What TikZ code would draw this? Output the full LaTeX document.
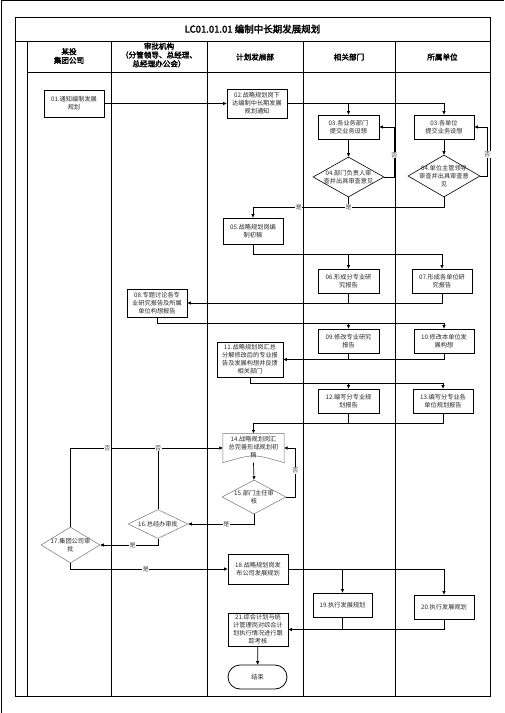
\documentclass[tikz,border=0pt]{standalone}
\usepackage{fontspec}
\setmainfont{Noto Sans CJK SC}[AutoFakeBold=2.5]
\usetikzlibrary{arrows.meta,shapes.geometric,calc}
\newcommand\flowfont{\fontsize{6.2}{8}\selectfont}
\newcommand\laneheadfont{\fontsize{7.6}{8.8}\selectfont\bfseries}
\newcommand\charttitlefont{\fontsize{9.5}{11}\selectfont\bfseries}
\newcommand\yesnofont{\fontsize{6}{7}\selectfont}

\begin{document}
\begin{tikzpicture}[x=1pt,y=-1pt,
	box/.style={draw,line width=0.8pt,minimum width=60pt,minimum height=24pt,inner sep=1pt,align=center,font=\flowfont,text=black!85},
	dia/.style={diamond,draw,inner sep=0pt},
	blackdia/.style={draw=black,line width=0.6pt},
	graydia/.style={draw=black!55,line width=0.5pt},
	txt/.style={align=center,font=\flowfont,text=black!85,inner sep=0pt},
	link/.style={line width=0.7pt},
	arr/.style={link,-{Triangle[length=3.5pt,width=3pt]}},
	yesno/.style={font=\yesnofont,fill=white,inner sep=0.5pt,text=black!75},
	lane/.style={line width=0.9pt},
	head/.style={align=center,font=\laneheadfont}]
			%%%%% START %%%%%
			\useasboundingbox (0,0) rectangle (504,713);
			
			% frame and lanes
			\draw[line width=0.9pt] (1,713) -- (1,0.5) -- (504,0.5);
			\draw[lane] (15,17) rectangle (490,696);
			\draw[lane] (15,41) -- (490,41);
			\draw[lane] (27,72) -- (490,72);
			\foreach \x in {27,111,207,303,395} \draw[lane] (\x,41) -- (\x,696);
			
			\node[head,font=\charttitlefont] (title) at (252.5,29) {LC01.01.01 编制中长期发展规划};
			\node[head] (h1) at (69,56) {某投\\集团公司};
			\node[head] (h2) at (159,55) {审批机构\\（分管领导、总经理、\\总经理办公会）};
			\node[head] (h3) at (255,57) {计划发展部};
			\node[head] (h4) at (349,57) {相关部门};
			\node[head] (h5) at (442.5,57) {所属单位};
			
			% steps
			\node[box,minimum height=27pt] (n01) at (74,103.5) {01.通知编制发展\\规划};
			\node[box,minimum height=29pt] (n02) at (257,103.5) {02.战略规划岗下\\达编制中长期发展\\规划通知};
			\node[box,minimum width=61pt] (n03a) at (348.5,127) {03.各业务部门\\提交业务设想};
			\node[box] (n03b) at (444,127) {03.各单位\\提交业务设想};
			\node[dia,blackdia,minimum width=71pt,minimum height=40pt] (n04a) at (348.5,177) {};
			\node[txt] (t04a) at (n04a) {04.部门负责人审\\查并出具审查意见};
			\node[dia,blackdia,minimum width=72pt,minimum height=42pt] (n04b) at (444,176) {};
			\node[txt] (t04b) at (n04b) {04.单位主管领导\\审查并出具审查意\\见};
			\node[box,minimum height=26pt] (n05) at (253,231) {05.战略规划岗编\\制初稿};
			\node[box,minimum width=61pt] (n06) at (348.5,281) {06.形成分专业研\\究报告};
			\node[box] (n07) at (442,281) {07.形成各单位研\\究报告};
			\node[box,minimum height=28pt] (n08) at (157,303) {08.专题讨论各专\\业研究报告及所属\\单位构想报告};
			\node[box,minimum width=61pt] (n09) at (348.5,341) {09.修改专业研究\\报告};
			\node[box] (n10) at (444,341) {10.修改本单位发\\展构想};
			\node[box,minimum width=66pt,minimum height=35pt] (n11) at (250,359.5) {11.战略规划岗汇总\\分解修改后的专业报\\告及发展构想并反馈\\相关部门};
			\node[box,minimum width=61pt] (n12) at (348.5,401) {12.编写分专业规\\划报告};
			\node[box] (n13) at (443,401) {13.编写分专业各\\单位规划报告};
			\node[minimum width=61pt,minimum height=29pt,inner sep=0pt] (n14) at (253.5,448) {};
			\draw[graydia] (n14.south west) -- (n14.north west) -- (n14.north east) -- (n14.south east) .. controls ($(n14.south)+(0,-9)$) .. (n14.south west);
			\node[txt] (t14) at ($(n14)+(0,-1)$) {14.战略规划岗汇\\总完善形成规划初\\稿};
			\node[dia,graydia,minimum width=64pt,minimum height=34pt] (n15) at (254,497) {};
			\node[txt] (t15) at (n15) {15.部门主任审\\核};
			\node[dia,graydia,minimum width=60pt,minimum height=29pt] (n16) at (158,524) {};
			\node[txt] (t16) at (n16) {16.总经办审批};
			\node[dia,graydia,minimum width=59pt,minimum height=36pt] (n17) at (70.5,545) {};
			\node[txt] (t17) at (n17) {17.集团公司审\\批};
			\node[box,minimum height=30pt] (n18) at (258,569) {18.战略规划岗发\\布公司发展规划};
			\node[box,minimum width=59pt] (n19) at (342.5,605) {19.执行发展规划};
			\node[box] (n20) at (444,607) {20.执行发展规划};
			\node[box,minimum height=33pt] (n21) at (258,629.5) {21.综合计划与统\\计管理岗对综合计\\划执行情况进行跟\\踪考核};
			\node[box,rounded corners=12pt,minimum width=59pt] (nend) at (257.5,677) {结束};
			
			% flow
			\draw[arr] (n01) -- (n02);
			\draw[arr] (n02.east) -| (n03b.north);
			\draw[arr] (n02.east -| n03a.north) -- (n03a.north);
			\draw[arr] (n03a) -- (n04a);
			\draw[arr] (n03b) -- (n04b);
			\draw[arr] (n04a.east) -- ++(10,0) |- (n03a.east) node[yesno,pos=0.22] {否};
			\draw[arr] (n04b.east) -- ++(7,0) |- (n03b.east) node[yesno,pos=0.22] {否};
			\draw[arr] (n04b.south) -- ++(0,10) -| (n05.north) node[yesno,pos=0.38] {是};
			\draw[link] (n04a.south) -- ++(0,10) node[yesno,pos=1] {是};
			
			\draw[arr] (n05.south) -- ++(0,10) -| (n07.north);
			\draw[arr] (n05.south) ++(0,10) -| (n06.north);
			\draw[arr] (n07.south) |- (n08.east);
			\draw[link] (n06.south) -- (n06.south |- n08.east);
			\draw[arr] (n08.south) -- ++(0,6) -| (n10.north);
			\draw[arr] (n08.south) ++(0,6) -| (n09.north);
			\draw[arr] (n10.south) |- (n11.east);
			\draw[link] (n09.south) -- (n09.south |- n11.east);
			\draw[arr] (n11.south) -- ++(0,6) -| (n13.north);
			\draw[arr] (n11.south) ++(0,6) -| (n12.north);
			\draw[arr] (n13.south) -- ++(0,10) -| (n14.north);
			\draw[link] (n12.south) -- ++(0,10);
			
			\draw[arr] (n14.south) -- (n15.north);
			\draw[arr] (n15.east) -- ++(9,0) |- (n14.east) node[yesno,pos=0.27] {否};
			\draw[arr] (n15.south) |- (n16.east) node[yesno,pos=0.71] {是};
			\draw[link] (n17.north) |- (n16.north |- n14.west) node[yesno,pos=0.71] {否};
			\draw[arr] (n16.north) |- (n14.west) node[yesno,pos=0.5] {否};
			\draw[arr] (n16.south) |- (n17.east) node[yesno,pos=0.72] {是};
			\draw[arr] (n17.south) |- (n18.west) node[yesno,pos=0.74] {是};
			
			\draw[arr] (n18.east) -| (n20.north);
			\draw[arr] (n18.east -| n19.north) -- (n19.north);
			\draw[arr] (n20.south) |- (n21.east);
			\draw[link] (n19.south) -- (n19.south |- n21.east);
			\draw[arr] (n21) -- (nend);
			%%%%% END %%%%%
\end{tikzpicture}
\end{document}
